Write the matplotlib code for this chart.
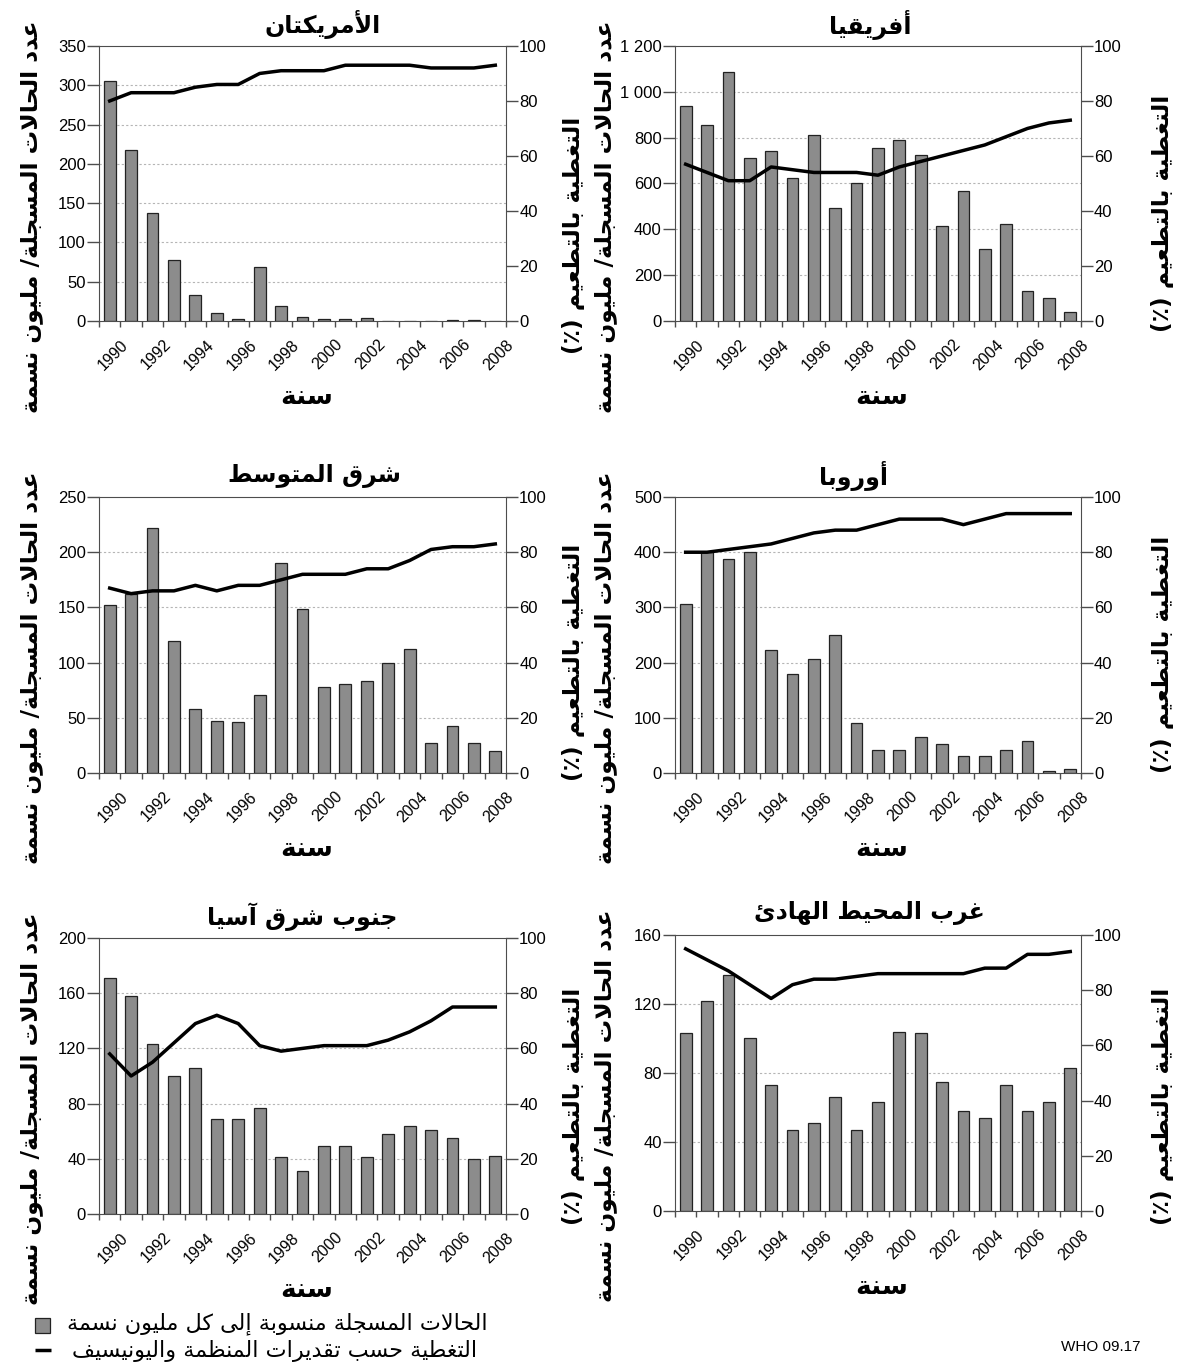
import matplotlib
matplotlib.use("Agg")
import matplotlib.pyplot as plt
from matplotlib.lines import Line2D
from matplotlib.patches import Rectangle

plt.rcParams["font.family"] = ["Liberation Sans", "DejaVu Sans"]

years = list(range(1990, 2009))

titles = ["الأمريكتان", "أفريقيا", "شرق المتوسط", "أوروبا", "جنوب شرق آسيا", "غرب المحيط الهادئ"]

cases_amr = [305, 217, 137, 78, 33, 10, 3, 69, 19, 5, 2, 2, 4, 0, 0, 0, 1, 1, 0]
cover_amr = [80, 83, 83, 83, 85, 86, 86, 90, 91, 91, 91, 93, 93, 93, 93, 92, 92, 92, 93]

cases_afr = [940, 855, 1085, 710, 740, 625, 810, 495, 600, 755, 790, 725, 415, 565, 315, 425, 130, 100, 40]
cover_afr = [57, 54, 51, 51, 56, 55, 54, 54, 54, 53, 56, 58, 60, 62, 64, 67, 70, 72, 73]

cases_emr = [152, 162, 222, 120, 58, 47, 46, 71, 190, 149, 78, 81, 83, 100, 112, 27, 43, 27, 20]
cover_emr = [67, 65, 66, 66, 68, 66, 68, 68, 70, 72, 72, 72, 74, 74, 77, 81, 82, 82, 83]

cases_eur = [307, 400, 388, 400, 223, 180, 207, 250, 90, 42, 42, 65, 52, 31, 30, 42, 58, 3, 7]
cover_eur = [80, 80, 81, 82, 83, 85, 87, 88, 88, 90, 92, 92, 92, 90, 92, 94, 94, 94, 94]

cases_sear = [171, 158, 123, 100, 106, 69, 69, 77, 41, 31, 49, 49, 41, 58, 64, 61, 55, 40, 42]
cover_sear = [58, 50, 55, 62, 69, 72, 69, 61, 59, 60, 61, 61, 61, 63, 66, 70, 75, 75, 75]

cases_wpr = [103, 122, 137, 100, 73, 47, 51, 66, 47, 63, 104, 103, 75, 58, 54, 73, 58, 63, 83]
cover_wpr = [95, 91, 87, 82, 77, 82, 84, 84, 85, 86, 86, 86, 86, 86, 88, 88, 93, 93, 94]

ymax = [350, 1200, 250, 500, 200, 160]
ystep = [50, 200, 50, 100, 40, 40]

ylabel_l = "عدد الحالات المسجلة/ مليون نسمة"
ylabel_r = "التغطية بالتطعيم (٪)"
xlabel = "سنة"
legend_labels = ["الحالات المسجلة منسوبة إلى كل مليون نسمة",
                 "التغطية حسب تقديرات المنظمة واليونيسيف"]


# --- tiny arabic shaper: matplotlib has no bidi/joining, so do it by hand ---
# letter -> (first presentation-form codepoint, number of forms)
FORMS = {
    "ء": (0xFE80, 1), "آ": (0xFE81, 2), "أ": (0xFE83, 2), "ؤ": (0xFE85, 2),
    "إ": (0xFE87, 2), "ئ": (0xFE89, 4), "ا": (0xFE8D, 2), "ب": (0xFE8F, 4),
    "ة": (0xFE93, 2), "ت": (0xFE95, 4), "ث": (0xFE99, 4), "ج": (0xFE9D, 4),
    "ح": (0xFEA1, 4), "خ": (0xFEA5, 4), "د": (0xFEA9, 2), "ذ": (0xFEAB, 2),
    "ر": (0xFEAD, 2), "ز": (0xFEAF, 2), "س": (0xFEB1, 4), "ش": (0xFEB5, 4),
    "ص": (0xFEB9, 4), "ض": (0xFEBD, 4), "ط": (0xFEC1, 4), "ظ": (0xFEC5, 4),
    "ع": (0xFEC9, 4), "غ": (0xFECD, 4), "ف": (0xFED1, 4), "ق": (0xFED5, 4),
    "ك": (0xFED9, 4), "ل": (0xFEDD, 4), "م": (0xFEE1, 4), "ن": (0xFEE5, 4),
    "ه": (0xFEE9, 4), "و": (0xFEED, 2), "ى": (0xFEEF, 2), "ي": (0xFEF1, 4),
}
LAM_ALEF = {"آ": 0xFEF5, "أ": 0xFEF7, "إ": 0xFEF9, "ا": 0xFEFB}
MIRROR = {"(": ")", ")": "("}


def ar(text):
    toks, i = [], 0
    while i < len(text):
        if text[i] == "ل" and i + 1 < len(text) and text[i + 1] in LAM_ALEF:
            toks.append(("LA", text[i + 1]))
            i += 2
        else:
            toks.append((text[i], None))
            i += 1
    out = []
    for k, (c, a) in enumerate(toks):
        prev = toks[k - 1][0] if k > 0 else ""
        nxt = toks[k + 1][0] if k + 1 < len(toks) else ""
        jp = prev in FORMS and FORMS[prev][1] == 4
        if c == "LA":
            out.append(chr(LAM_ALEF[a] + (1 if jp else 0)))
        elif c in FORMS:
            base, n = FORMS[c]
            if n == 1:
                out.append(chr(base))
                continue
            jn = n == 4 and (nxt in FORMS or nxt == "LA")
            idx = 3 if (jp and jn) else 1 if jp else 2 if jn else 0
            out.append(chr(base + idx))
        else:
            out.append(MIRROR.get(c, c))
    return "".join(reversed(out))


AR = ["DejaVu Sans"]
GRAY = "#4d4d4d"
BAR = "#8c8c8c"

cases = [cases_amr, cases_afr, cases_emr, cases_eur, cases_sear, cases_wpr]
cover = [cover_amr, cover_afr, cover_emr, cover_eur, cover_sear, cover_wpr]

# axes boxes in figure fractions (left, bottom, width, height)
boxes = [
    (0.0829, 0.7647, 0.3409, 0.2016),
    (0.5653, 0.7647, 0.3400, 0.2016),
    (0.0829, 0.4333, 0.3409, 0.2023),
    (0.5653, 0.4333, 0.3400, 0.2023),
    (0.0829, 0.1100, 0.3409, 0.2023),
    (0.5653, 0.1122, 0.3400, 0.2023),
]
title_x = [0.55, 0.48, 0.53, 0.44, 0.50, 0.48]
rlab_y = [0.31, 0.39, 0.40, 0.43, 0.39, 0.38]

fig = plt.figure(figsize=(11.94, 13.64), dpi=100)

bounds = [y - 0.5 for y in years] + [years[-1] + 0.5]
blabels = [""] + [str(y) if y % 2 == 0 else "" for y in years]

for i in range(6):
    ax = fig.add_axes(boxes[i])
    ax.bar(years, cases[i], width=0.55, color=BAR, edgecolor="#222222", linewidth=0.9, zorder=2)
    ax.set_xlim(1989.5, 2008.5)
    ax.set_ylim(0, ymax[i])
    ticks = list(range(0, ymax[i] + 1, ystep[i]))
    ax.set_yticks(ticks)
    ax.set_yticklabels([f"{t:,}".replace(",", " ") for t in ticks], fontsize=12)
    for t in ticks[1:-1]:
        ax.axhline(t, color="#b5b5b5", lw=0.8, ls=(0, (2, 2)), zorder=1)
    ax.set_xticks(bounds)
    ax.set_xticklabels(blabels, rotation=45, ha="right", rotation_mode="anchor", fontsize=11.5)
    ax.tick_params(axis="y", colors=GRAY, labelcolor="black", length=8.5, width=1, pad=1)
    ax.tick_params(axis="x", colors=GRAY, labelcolor="black", length=4.5, width=1, pad=7)
    ax.spines["right"].set_visible(False)
    for s in ["left", "bottom", "top"]:
        ax.spines[s].set_color(GRAY)

    ax2 = ax.twinx()
    ax2.plot(years, cover[i], color="black", lw=2.5, zorder=3)
    ax2.set_ylim(0, 100)
    ax2.set_yticks(range(0, 101, 20))
    ax2.tick_params(axis="y", colors=GRAY, labelcolor="black", length=8.5, width=1, pad=1, labelsize=12)
    for s in ["top", "left", "bottom"]:
        ax2.spines[s].set_visible(False)
    ax2.spines["right"].set_color(GRAY)

    ax.text(title_x[i], 1.078, ar(titles[i]), transform=ax.transAxes, ha="center", va="center",
            fontsize=17, fontweight="bold", family=AR)
    ax.text(0.51, -0.275, ar(xlabel), transform=ax.transAxes, ha="center", va="center",
            fontsize=19, fontweight="bold", family=AR)
    lx = -0.167 if i % 2 == 0 else -0.172
    ax.text(lx, 0.38, ar(ylabel_l), transform=ax.transAxes, ha="center", va="center",
            rotation=90, fontsize=16.8, fontweight="bold", family=AR)
    rx = 1.165 if i % 2 == 0 else 1.20
    ax.text(rx, rlab_y[i], ar(ylabel_r), transform=ax.transAxes, ha="center", va="center",
            rotation=90, fontsize=16.8, fontweight="bold", family=AR)

# legend drawn by hand under the bottom-left panel
fig.patches.append(Rectangle((35 / 1194, 1 - 1333 / 1364), 15 / 1194, 15 / 1364,
                             facecolor=BAR, edgecolor="#222222", lw=0.9, transform=fig.transFigure))
fig.lines.append(Line2D([35 / 1194, 51 / 1194], [1 - 1350 / 1364] * 2, color="black", lw=2.5,
                        solid_capstyle="butt", transform=fig.transFigure))
fig.text(67 / 1194, 1 - 1324 / 1364, ar(legend_labels[0]), ha="left", va="center", fontsize=16, family=AR)
fig.text(72 / 1194, 1 - 1351 / 1364, ar(legend_labels[1]), ha="left", va="center", fontsize=16, family=AR)

fig.text(0.955, 1 - 1347 / 1364, "WHO 09.17", ha="right", va="center", fontsize=11)

fig.savefig("out.png", dpi=100)
